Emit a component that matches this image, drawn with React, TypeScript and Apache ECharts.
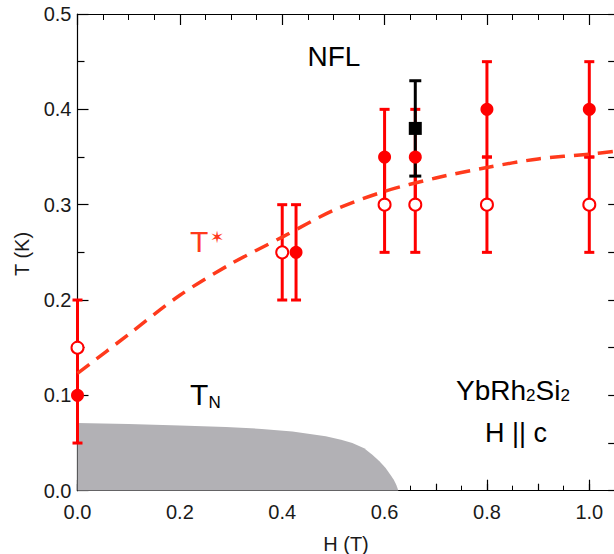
import React, { useEffect, useRef } from 'react';
import * as echarts from 'echarts';

// ---- data ----
const filledH = [0, 0.427, 0.6, 0.66, 0.8, 1.0];
const filledT = [0.1, 0.25, 0.35, 0.35, 0.4, 0.4];
const filledErr = [0.05, 0.05, 0.05, 0.05, 0.05, 0.05];

const openH = [0, 0.4, 0.6, 0.66, 0.8, 1.0];
const openT = [0.15, 0.25, 0.3, 0.3, 0.3, 0.3];
const openErr = [0.05, 0.05, 0.05, 0.05, 0.05, 0.05];

const squareH = [0.66];
const squareT = [0.38];
const squareErr = [0.05];

const tstarH = [0, 0.1, 0.2, 0.3, 0.4, 0.5, 0.6, 0.7, 0.8, 0.9, 1.0, 1.05];
const tstarT = [0.123, 0.164, 0.205, 0.238, 0.266, 0.294, 0.314, 0.328, 0.339, 0.348, 0.353, 0.356];

const afmH = [0, 0.1, 0.2, 0.29, 0.36, 0.42, 0.485, 0.515, 0.537, 0.56, 0.576, 0.59, 0.602, 0.611, 0.618, 0.623, 0.627];
const afmT = [0.071, 0.07, 0.0685, 0.0668, 0.0648, 0.0622, 0.057, 0.0535, 0.05, 0.0445, 0.0377, 0.031, 0.0238, 0.017, 0.0115, 0.006, 0];

const FONT = 'Liberation Sans, Arial, Helvetica, sans-serif';
const RED = '#ff0000';
const ORANGE = '#ff3a1c';

const zip = (a: number[], b: number[]) => a.map((v, i) => [v, b[i]]);
const errData = (h: number[], t: number[], e: number[]) => h.map((v, i) => [v, t[i] - e[i], t[i] + e[i]]);

const errRender = (color: string, capW: number, lw: number) => (params: any, api: any) => {
  const x = api.value(0);
  const lo = api.value(1);
  const hi = api.value(2);
  const a = api.coord([x, lo]);
  const b = api.coord([x, hi]);
  const st = { stroke: color, lineWidth: lw };
  return {
    type: 'group',
    children: [
      { type: 'line', shape: { x1: a[0], y1: a[1], x2: b[0], y2: b[1] }, style: st },
      { type: 'line', shape: { x1: a[0] - capW / 2, y1: a[1], x2: a[0] + capW / 2, y2: a[1] }, style: st },
      { type: 'line', shape: { x1: b[0] - capW / 2, y1: b[1], x2: b[0] + capW / 2, y2: b[1] }, style: st },
    ],
  };
};

const PX = 511.8; // px per unit H
const GRID_LEFT = 77.5;
const GRID_TOP = 14;
const GRID_H = 476.7;
const XMAX = 1.2;
const GRID_W = XMAX * PX;
const RIGHT_OFFSET = -(GRID_LEFT + GRID_W - 615.2);
const CHART_W = 720;

export default function App() {
  const ref = useRef<HTMLDivElement>(null);
  useEffect(() => {
    if (!ref.current) return;
    const chart = echarts.init(ref.current, undefined, { renderer: 'svg' });
    const axisLabelStyle = { fontFamily: FONT, fontSize: 20, color: '#1a1a1a' };
    const option: any = {
      animation: false,
      backgroundColor: '#ffffff',
      grid: { left: GRID_LEFT, top: GRID_TOP, width: GRID_W, height: GRID_H },
      xAxis: [
        {
          type: 'value', position: 'bottom', min: 0, max: XMAX, interval: 0.2,
          axisLine: { show: true, onZero: false, lineStyle: { color: '#000', width: 1.2 } },
          axisTick: { show: true, inside: true, length: 11, lineStyle: { color: '#000', width: 1.2 } },
          minorTick: { show: true, splitNumber: 4, length: 5, lineStyle: { color: '#000', width: 1 } },
          splitLine: { show: false },
          axisLabel: {
            ...axisLabelStyle, margin: 11,
            formatter: (v: number) => (v > 1.05 ? '' : v.toFixed(1)),
          },
        },
        {
          type: 'value', position: 'bottom', min: 0, max: XMAX, interval: 0.1,
          axisLine: { show: false },
          axisTick: { show: true, inside: true, length: 7, lineStyle: { color: '#000', width: 1.2 } },
          splitLine: { show: false },
          axisLabel: { show: false },
        },
        {
          type: 'value', position: 'top', min: 0, max: XMAX, interval: 0.2,
          axisLine: { show: true, onZero: false, lineStyle: { color: '#000', width: 1.2 } },
          axisTick: { show: true, inside: true, length: 11, lineStyle: { color: '#000', width: 1.2 } },
          minorTick: { show: true, splitNumber: 4, length: 6, lineStyle: { color: '#000', width: 1 } },
          splitLine: { show: false },
          axisLabel: { show: false },
        },
      ],
      yAxis: [
        {
          type: 'value', position: 'left', min: 0, max: 0.5, interval: 0.1,
          axisLine: { show: true, onZero: false, lineStyle: { color: '#000', width: 1.2 } },
          axisTick: { show: true, inside: true, length: 11, lineStyle: { color: '#000', width: 1.2 } },
          minorTick: { show: true, splitNumber: 2, length: 7, lineStyle: { color: '#000', width: 1.2 } },
          splitLine: { show: false },
          axisLabel: { ...axisLabelStyle, margin: 6, formatter: (v: number) => v.toFixed(1) },
        },
        {
          type: 'value', position: 'right', offset: RIGHT_OFFSET, min: 0, max: 0.5, interval: 0.05,
          axisLine: { show: true, onZero: false, lineStyle: { color: '#000', width: 1.2 } },
          axisTick: { show: true, inside: true, length: 7, lineStyle: { color: '#000', width: 1.2 } },
          splitLine: { show: false },
          axisLabel: { show: false },
        },
      ],
      series: [
        {
          type: 'line', name: 'AFM', data: zip(afmH, afmT), smooth: false,
          showSymbol: false, symbol: 'none', z: 1,
          lineStyle: { width: 0 },
          areaStyle: { color: '#b2b1b5', opacity: 1 },
        },
        {
          type: 'custom', name: 'errFilled', data: errData(filledH, filledT, filledErr),
          encode: { x: 0, y: [1, 2] }, renderItem: errRender(RED, 10, 3), clip: false, z: 3,
        },
        {
          type: 'custom', name: 'errOpen', data: errData(openH, openT, openErr),
          encode: { x: 0, y: [1, 2] }, renderItem: errRender(RED, 10, 3), clip: false, z: 3,
        },
        {
          type: 'custom', name: 'errSquare', data: errData(squareH, squareT, squareErr),
          encode: { x: 0, y: [1, 2] }, renderItem: errRender('#000000', 12, 3), clip: false, z: 3,
        },
        {
          type: 'line', name: 'Tstar', data: zip(tstarH, tstarT), smooth: 0.3,
          showSymbol: false, symbol: 'none', z: 4,
          lineStyle: { color: ORANGE, width: 3.5, type: [15, 9] },
        },
        {
          type: 'scatter', name: 'open', data: zip(openH, openT), symbol: 'circle', symbolSize: 12,
          clip: false, z: 5,
          itemStyle: { color: '#ffffff', borderColor: RED, borderWidth: 2, opacity: 1 },
        },
        {
          type: 'scatter', name: 'filled', data: zip(filledH, filledT), symbol: 'circle', symbolSize: 13,
          clip: false, z: 5,
          itemStyle: { color: RED, opacity: 1 },
        },
        {
          type: 'scatter', name: 'square', data: zip(squareH, squareT), symbol: 'rect', symbolSize: 13,
          clip: false, z: 6,
          itemStyle: { color: '#000000', opacity: 1 },
        },
      ],
      graphic: {
        elements: [
          { type: 'text', x: 334, y: 56.3, style: { text: 'NFL', fontFamily: FONT, fontSize: 28, fill: '#000', align: 'center', verticalAlign: 'middle' } },
          { type: 'text', x: 190, y: 241.6, style: { text: 'T', fontFamily: FONT, fontSize: 30, fill: ORANGE, align: 'left', verticalAlign: 'middle' } },
          { type: 'text', x: 217, y: 237, style: { text: '✶', fontFamily: 'DejaVu Sans', fontSize: 17, fill: ORANGE, align: 'center', verticalAlign: 'middle' } },
          { type: 'text', x: 190, y: 394.6, style: { text: 'T', fontFamily: FONT, fontSize: 30, fill: '#000', align: 'left', verticalAlign: 'middle' } },
          { type: 'text', x: 208.5, y: 402.1, style: { text: 'N', fontFamily: FONT, fontSize: 17, fill: '#000', align: 'left', verticalAlign: 'middle' } },
          { type: 'text', x: 456, y: 390.3, style: { text: 'YbRh', fontFamily: FONT, fontSize: 28, fill: '#000', align: 'left', verticalAlign: 'middle' } },
          { type: 'text', x: 526, y: 395.6, style: { text: '2', fontFamily: FONT, fontSize: 17, fill: '#000', align: 'left', verticalAlign: 'middle' } },
          { type: 'text', x: 535.5, y: 390.3, style: { text: 'Si', fontFamily: FONT, fontSize: 28, fill: '#000', align: 'left', verticalAlign: 'middle' } },
          { type: 'text', x: 560.4, y: 395.6, style: { text: '2', fontFamily: FONT, fontSize: 17, fill: '#000', align: 'left', verticalAlign: 'middle' } },
          { type: 'text', x: 516, y: 432.6, style: { text: 'H || c', fontFamily: FONT, fontSize: 27, fill: '#000', align: 'center', verticalAlign: 'middle' } },
          { type: 'text', x: 221, y: 456.4, style: { text: 'AFM', fontFamily: FONT, fontSize: 21, fill: '#f4f4f4', align: 'center', verticalAlign: 'middle' } },
          { type: 'text', x: 22, y: 254, rotation: Math.PI / 2, style: { text: 'T (K)', fontFamily: FONT, fontSize: 20, fill: '#1a1a1a', align: 'center', verticalAlign: 'middle' } },
          { type: 'text', x: 346, y: 543.6, style: { text: 'H (T)', fontFamily: FONT, fontSize: 20, fill: '#1a1a1a', align: 'center', verticalAlign: 'middle' } },
        ],
      },
    };
    chart.setOption(option);
    return () => chart.dispose();
  }, []);
  return (
    <div style={{ position: 'absolute', left: 0, top: 0, width: 614, height: 554, overflow: 'hidden' }}>
      <div ref={ref} style={{ width: CHART_W, height: 554 }} />
    </div>
  );
}
